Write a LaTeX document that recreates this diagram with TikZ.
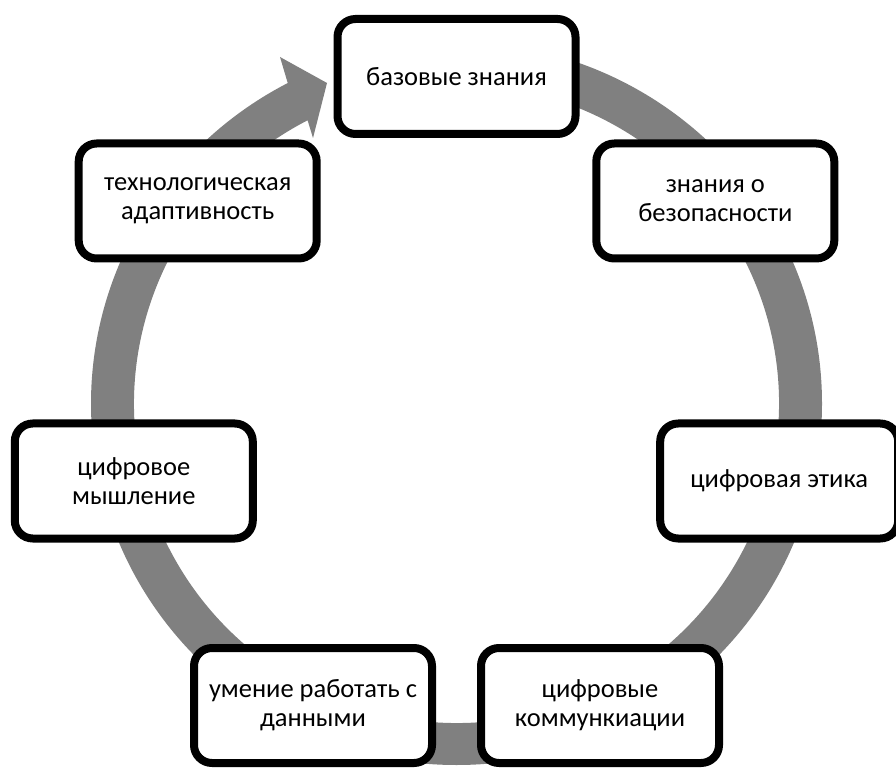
\documentclass[tikz,border=0pt]{standalone}
\usepackage{fontspec}
\setmainfont{Carlito}
\usetikzlibrary{calc,shadows}
\definecolor{ringgray}{RGB}{128,128,128}
\tikzset{
  stagebox/.style={draw=black, line width=8pt, fill=white, rounded corners=18pt,
    minimum width=238pt, minimum height=115pt, align=center, text=black,
    font=\fontsize{26.5}{29}\selectfont,
    drop shadow={shadow xshift=2pt, shadow yshift=-3pt, opacity=0.25, fill=black}},
  ringfill/.style={fill=ringgray}
}
\begin{document}
\begin{tikzpicture}[x=1pt,y=1pt]
\useasboundingbox (0,0) rectangle (896,769);
\fill[white] (0,0) rectangle (896,769);
\coordinate (c) at (456.5,365.4);
% circular arrow
\fill[ringfill] ($(c)+(90:365.5pt and 361.4pt)$)
  arc[start angle=90, end angle=-242.5, x radius=365.5pt, y radius=361.4pt]
  -- (280,712) -- (327,686) -- (313,631)
  -- ($(c)+(-242.5:322.5pt and 319.4pt)$)
  arc[start angle=-242.5, end angle=90, x radius=322.5pt, y radius=319.4pt] -- cycle;
% boxes
\node[stagebox] (b1) at (456.5,692.5) {базовые знания};
\node[stagebox] (b2) at (715.3,568) {знания о\\безопасности};
\node[stagebox] (b3) at (779.2,288) {цифровая этика};
\node[stagebox] (b4) at (600,63.5) {цифровые\\коммункиации};
\node[stagebox] (b5) at (313,63.5) {умение работать с\\данными};
\node[stagebox] (b6) at (133.8,288) {цифровое\\мышление};
\node[stagebox] (b7) at (197.7,568) {технологическая\\адаптивность};
\end{tikzpicture}
\end{document}
